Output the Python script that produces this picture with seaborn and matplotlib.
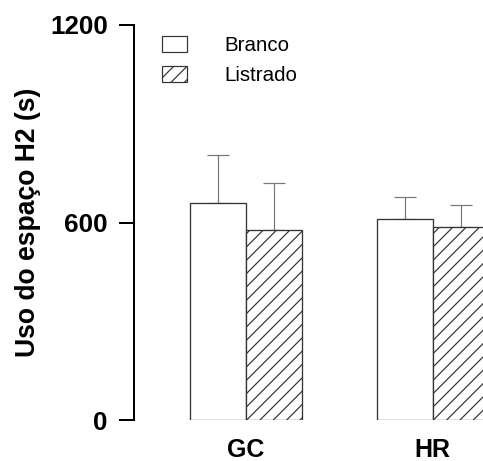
import matplotlib
matplotlib.use("Agg")
import matplotlib.pyplot as plt
import seaborn as sns
import pandas as pd
from matplotlib.patches import Patch

groups = ["GC", "HR"]
conditions = ["Branco", "Listrado"]
means_branco = [660, 611]
means_listrado = [577, 586]
err_branco = [146, 65]
err_listrado = [144, 67]
yticks = [0, 600, 1200]
ylabel = "Uso do espaço H2 (s)"

df = pd.DataFrame({
    "grupo": groups * 2,
    "condicao": [conditions[0]] * 2 + [conditions[1]] * 2,
    "valor": means_branco + means_listrado,
    "erro": err_branco + err_listrado,
})

DPI = 80
W, H = 483, 461


def pt(px):
    return px * 72.0 / DPI


sns.set_style("white")
plt.rcParams["font.family"] = ["Liberation Sans", "DejaVu Sans"]
for k in ["text.color", "axes.labelcolor", "xtick.color", "ytick.color"]:
    plt.rcParams[k] = "black"
plt.rcParams["hatch.linewidth"] = pt(1.2)
plt.rcParams["hatch.color"] = "#2a2a2a"

fig = plt.figure(figsize=(W / DPI, H / DPI), dpi=DPI)
ax_left, ax_bottom, ax_top = 134.3, 420.0, 25.0
ax = fig.add_axes([ax_left / W, (H - ax_bottom) / H, (W - ax_left) / W, (ax_bottom - ax_top) / H])

sns.barplot(data=df, x="grupo", y="valor", hue="condicao", order=groups,
            hue_order=conditions, palette=["white", "white"], width=0.6,
            edgecolor="#333333", linewidth=pt(1.3), errorbar=None, legend=False, ax=ax)

hatches = {"Branco": "", "Listrado": "//"}
for cont, cond in zip(ax.containers, conditions):
    sub = df[df["condicao"] == cond].set_index("grupo").loc[groups]
    xs = []
    for bar in cont:
        bar.set_hatch(hatches[cond])
        bar.set_edgecolor("#333333")
        xs.append(bar.get_x() + bar.get_width() / 2)
    ax.errorbar(xs, sub["valor"].values,
                yerr=[[0] * len(xs), sub["erro"].values],
                fmt="none", ecolor="#777777", elinewidth=pt(1.2),
                capsize=pt(11), capthick=pt(1.2), zorder=0)

ax.set_xlim(-0.598, 1.269)
ax.set_ylim(0, 1200)
ax.set_yticks(yticks)
ax.set_yticklabels([str(t) for t in yticks], fontsize=pt(26), fontweight="bold")
ax.tick_params(axis="y", direction="out", length=pt(15), width=pt(2), color="black",
               pad=pt(11.5), left=True)
ax.tick_params(axis="x", length=0, pad=pt(18), labelsize=pt(25))
for lab in ax.get_xticklabels():
    lab.set_fontweight("bold")
ax.set_xlabel("")
ax.set_ylabel(ylabel, fontsize=pt(26.5), fontweight="bold", labelpad=pt(9))

for s in ["top", "right", "bottom"]:
    ax.spines[s].set_visible(False)
ax.spines["left"].set_linewidth(pt(2))
ax.spines["left"].set_color("black")

handles = [Patch(facecolor="white", edgecolor="#333333", linewidth=pt(1.2), hatch=hatches[c], label=c)
           for c in conditions]
fs_leg = 20.5
ax.legend(handles=handles, loc="upper left",
          bbox_to_anchor=((162 - ax_left) / (W - ax_left), (ax_bottom - 36) / (ax_bottom - ax_top)),
          frameon=False, borderpad=0, borderaxespad=0,
          fontsize=pt(fs_leg), handlelength=25 / fs_leg, handleheight=16 / fs_leg,
          handletextpad=37 / fs_leg, labelspacing=0.55)

fig.savefig("out.png", dpi=DPI)
